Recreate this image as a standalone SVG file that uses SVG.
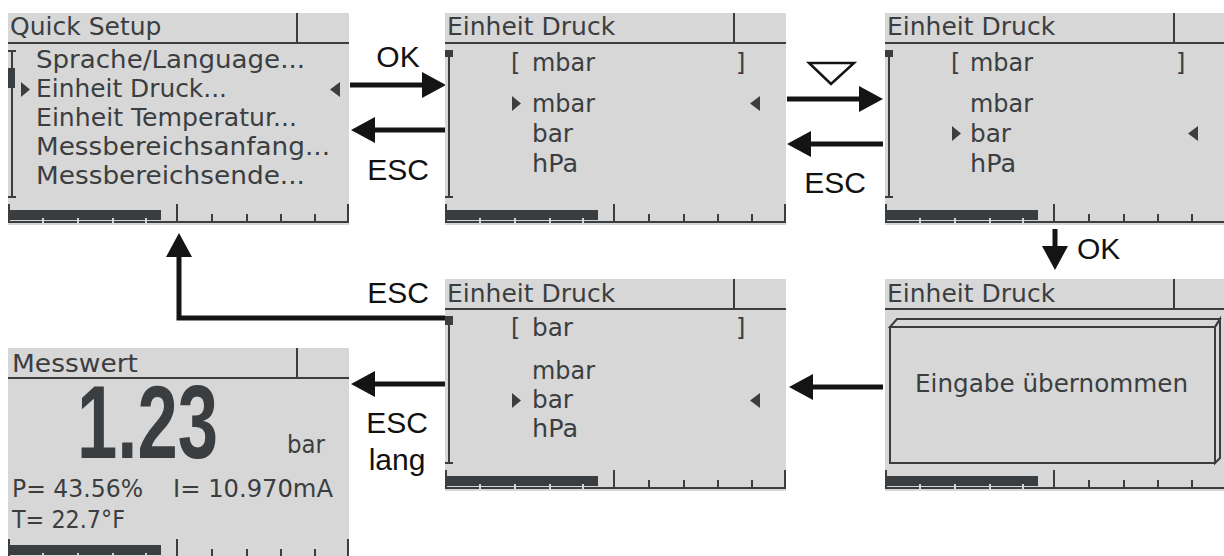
<svg xmlns="http://www.w3.org/2000/svg" width="1224" height="556" viewBox="0 0 1224 556">
<style>
.bg{fill:#d7d7d7}
.ink{fill:#3b3e41}
.lt{fill:#d7d7d7}
.t{font-family:"DejaVu Sans",sans-serif;font-size:25px;fill:#3b3e41}
.b{font-family:"DejaVu Sans",sans-serif;font-size:24px;fill:#3b3e41}
.big{font-family:"Liberation Sans",Arial,sans-serif;font-weight:bold;font-size:104px;fill:#3b3e41}
.lbl{font-family:"Liberation Sans",Arial,sans-serif;font-size:30px;fill:#111}
.con{fill:none;stroke:#141414;stroke-width:5}
.box{fill:none;stroke:#3b3e41;stroke-width:2}
</style>
<defs>
<marker id="ah" markerUnits="userSpaceOnUse" markerWidth="24" markerHeight="26" refX="14" refY="13" orient="auto">
<path d="M0,0 L24,13 L0,26 z" fill="#141414"/>
</marker>
<g id="frame">
<rect class="bg" width="341" height="212"/>
<rect class="ink" x="0" y="29" width="341" height="2"/>
<rect class="ink" x="288" y="0" width="2" height="30"/>
<rect class="ink" x="0" y="197" width="153" height="10"/>
<rect class="ink" x="0" y="208" width="341" height="2"/>
<rect class="lt" x="34" y="205" width="2" height="5"/>
<rect class="lt" x="69" y="205" width="2" height="5"/>
<rect class="lt" x="104" y="205" width="2" height="5"/>
<rect class="lt" x="137" y="205" width="2" height="5"/>
<rect class="ink" x="0" y="191" width="2" height="19"/>
<rect class="ink" x="168" y="191" width="2" height="19"/>
<rect class="ink" x="203" y="201" width="2" height="9"/>
<rect class="ink" x="238" y="201" width="2" height="9"/>
<rect class="ink" x="272" y="201" width="2" height="9"/>
<rect class="ink" x="306" y="201" width="2" height="9"/>
<rect class="ink" x="339" y="191" width="2" height="19"/>
</g>
<g id="scroll">
<rect class="ink" x="3" y="37" width="2" height="148"/>
<rect class="ink" x="0" y="37" width="8" height="2"/>
<rect class="ink" x="0" y="183" width="8" height="2"/>
</g>
<polygon id="pr" class="ink" points="0,0 9,7.5 0,15"/>
<polygon id="pl" class="ink" points="10,0 0,7.5 10,15"/>
</defs>

<g id="connectors">
<path class="con" marker-end="url(#ah)" d="M350,85 H436"/>
<path class="con" marker-end="url(#ah)" d="M446,130 H361"/>
<path class="con" marker-end="url(#ah)" d="M787,99 H873"/>
<path class="con" marker-end="url(#ah)" d="M883,144 H797"/>
<path class="con" marker-end="url(#ah)" d="M1055,229 V260"/>
<path class="con" marker-end="url(#ah)" d="M883,387 H799"/>
<path class="con" marker-end="url(#ah)" d="M447,384 H361"/>
<path class="con" marker-end="url(#ah)" d="M447,318 H179 V243"/>
<text class="lbl" x="398" y="67" text-anchor="middle">OK</text>
<text class="lbl" x="398" y="180" text-anchor="middle">ESC</text>
<polygon points="809,63 854,63 831,84" fill="#fff" stroke="#141414" stroke-width="2.5"/>
<text class="lbl" x="835" y="193" text-anchor="middle">ESC</text>
<text class="lbl" x="1077" y="259">OK</text>
<text class="lbl" x="398" y="303" text-anchor="middle">ESC</text>
<text class="lbl" x="397" y="433" text-anchor="middle">ESC</text>
<text class="lbl" x="397" y="470" text-anchor="middle">lang</text>
</g>

<g id="quick-setup">
<use href="#frame" x="8" y="13"/>
<use href="#scroll" x="8" y="13"/>
<rect class="ink" x="8" y="68" width="7" height="20"/>
<text class="t" x="10" y="35">Quick Setup</text>
<text class="b" x="36" y="68" textLength="269" lengthAdjust="spacingAndGlyphs">Sprache/Language...</text>
<text class="b" x="36" y="97" textLength="191" lengthAdjust="spacingAndGlyphs">Einheit Druck...</text>
<text class="b" x="36" y="126" textLength="261" lengthAdjust="spacingAndGlyphs">Einheit Temperatur...</text>
<text class="b" x="36" y="155" textLength="294" lengthAdjust="spacingAndGlyphs">Messbereichsanfang...</text>
<text class="b" x="36" y="184" textLength="269" lengthAdjust="spacingAndGlyphs">Messbereichsende...</text>
<use href="#pr" x="21" y="82"/>
<use href="#pl" x="330" y="82"/>
</g>

<g id="unit-mbar">
<use href="#frame" x="445" y="13"/>
<use href="#scroll" x="445" y="13"/>
<rect class="ink" x="445" y="50" width="8" height="7"/>
<text class="t" x="447" y="35">Einheit Druck</text>
<text class="b" x="511" y="71">[</text>
<text class="b" x="532" y="71" textLength="63" lengthAdjust="spacingAndGlyphs">mbar</text>
<text class="b" x="736" y="71">]</text>
<use href="#pr" x="512" y="96"/>
<text class="b" x="532" y="112" textLength="63" lengthAdjust="spacingAndGlyphs">mbar</text>
<use href="#pl" x="750" y="96"/>
<text class="b" x="532" y="142" textLength="41" lengthAdjust="spacingAndGlyphs">bar</text>
<text class="b" x="532" y="172" textLength="46" lengthAdjust="spacingAndGlyphs">hPa</text>
</g>

<g id="unit-bar-select">
<use href="#frame" x="885" y="13"/>
<use href="#scroll" x="885" y="13"/>
<rect class="ink" x="885" y="50" width="8" height="7"/>
<text class="t" x="887" y="35">Einheit Druck</text>
<text class="b" x="951" y="71">[</text>
<text class="b" x="970" y="71" textLength="63" lengthAdjust="spacingAndGlyphs">mbar</text>
<text class="b" x="1176" y="71">]</text>
<text class="b" x="970" y="112" textLength="63" lengthAdjust="spacingAndGlyphs">mbar</text>
<use href="#pr" x="952" y="126"/>
<text class="b" x="970" y="142" textLength="41" lengthAdjust="spacingAndGlyphs">bar</text>
<use href="#pl" x="1188" y="126"/>
<text class="b" x="970" y="172" textLength="46" lengthAdjust="spacingAndGlyphs">hPa</text>
</g>

<g id="unit-bar">
<use href="#frame" x="445" y="279"/>
<use href="#scroll" x="445" y="279"/>
<rect class="ink" x="445" y="316" width="8" height="9"/>
<text class="t" x="447" y="302">Einheit Druck</text>
<text class="b" x="511" y="336">[</text>
<text class="b" x="532" y="336" textLength="41" lengthAdjust="spacingAndGlyphs">bar</text>
<text class="b" x="736" y="336">]</text>
<text class="b" x="532" y="379" textLength="63" lengthAdjust="spacingAndGlyphs">mbar</text>
<use href="#pr" x="512" y="393"/>
<text class="b" x="532" y="408" textLength="41" lengthAdjust="spacingAndGlyphs">bar</text>
<use href="#pl" x="750" y="393"/>
<text class="b" x="532" y="437" textLength="46" lengthAdjust="spacingAndGlyphs">hPa</text>
</g>

<g id="accepted">
<use href="#frame" x="885" y="279"/>
<text class="t" x="887" y="302">Einheit Druck</text>
<rect class="box" x="890" y="327" width="325" height="136"/>
<polygon class="box" points="890,327 897,319 1220,319 1215,327"/>
<polygon class="box" points="1215,327 1220,319 1220,458 1215,463"/>
<text class="b" x="915" y="392" font-size="25" textLength="273" lengthAdjust="spacingAndGlyphs">Eingabe übernommen</text>
</g>

<g id="messwert">
<use href="#frame" x="8" y="348"/>
<text class="t" x="12" y="372" textLength="126" lengthAdjust="spacingAndGlyphs">Messwert</text>
<text class="big" x="77" y="458" textLength="141" lengthAdjust="spacingAndGlyphs">1.23</text>
<text class="b" x="287" y="453" font-size="21" textLength="38" lengthAdjust="spacingAndGlyphs">bar</text>
<text class="b" x="12" y="497" textLength="131" lengthAdjust="spacingAndGlyphs">P= 43.56%</text>
<text class="b" x="173" y="497" textLength="160" lengthAdjust="spacingAndGlyphs">I= 10.970mA</text>
<text class="b" x="12" y="528" textLength="113" lengthAdjust="spacingAndGlyphs">T= 22.7°F</text>
</g>
</svg>
